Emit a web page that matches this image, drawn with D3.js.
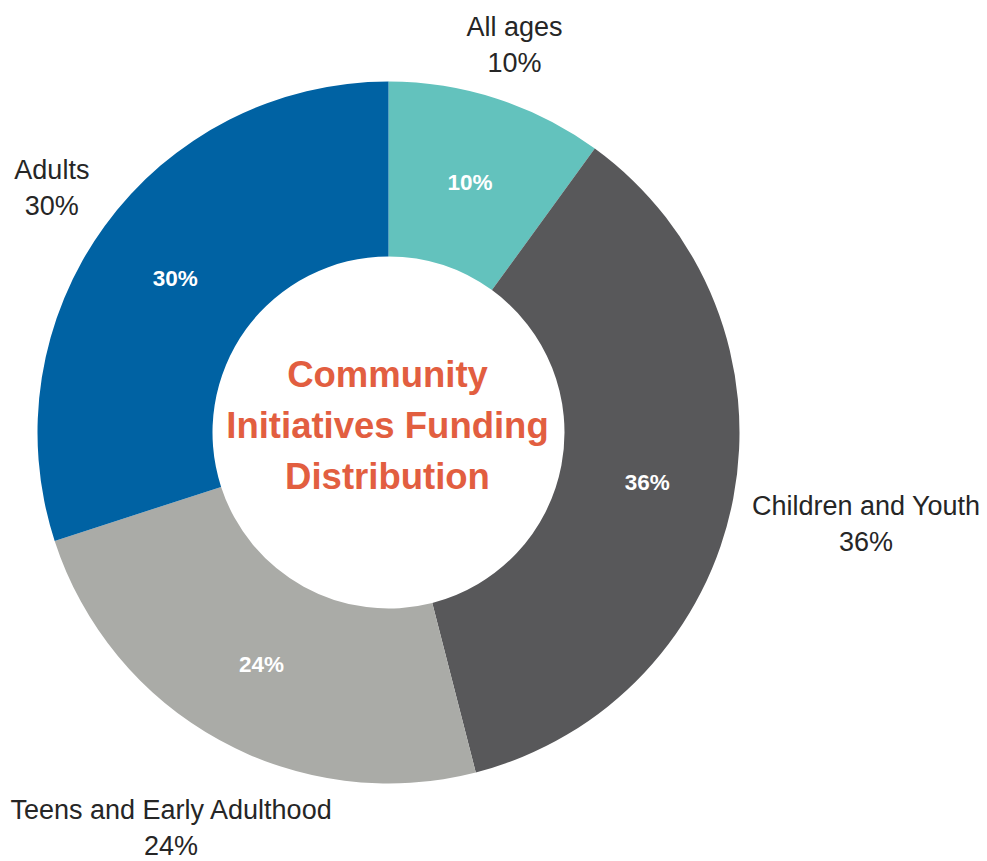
<!DOCTYPE html>
<html>
<head>
<meta charset="utf-8">
<script src="https://cdn.jsdelivr.net/npm/d3@7"></script>
<style>
  html, body { margin: 0; padding: 0; background: #fff; }
  svg { display: block; font-family: "Liberation Sans", Arial, sans-serif; }
</style>
</head>
<body>
<svg id="chart" width="987" height="861"></svg>
<script>
const categories = ["All ages", "Children and Youth", "Teens and Early Adulthood", "Adults"];
const values = [10, 36, 24, 30];
const colors = ["#63c2bd", "#58585a", "#aaaba7", "#0062a3"];
const titleLines = ["Community", "Initiatives Funding", "Distribution"];

const data = categories.map((c, i) => ({ name: c, value: values[i], color: colors[i] }));

const svg = d3.select("#chart");
const cx = 388.5, cy = 432.5;
const outerR = 351, innerR = 176;
const labelR = 374;

const g = svg.append("g").attr("transform", `translate(${cx},${cy})`);

const pie = d3.pie().value(d => d.value).sort(null);
const arc = d3.arc().innerRadius(innerR).outerRadius(outerR);
const arcs = pie(data);

g.selectAll("path.slice").data(arcs).enter().append("path")
  .attr("class", "slice")
  .attr("d", arc)
  .attr("fill", d => d.data.color);

// inner value labels
g.selectAll("text.inner").data(arcs).enter().append("text")
  .attr("class", "inner")
  .attr("transform", d => `translate(${arc.centroid(d)})`)
  .attr("text-anchor", "middle")
  .attr("dy", "0.36em")
  .attr("fill", "#ffffff")
  .attr("font-weight", "bold")
  .attr("font-size", 22.5)
  .text(d => d.data.value + "%");

// outer labels
const lineH = 36;
arcs.forEach(d => {
  const a = (d.startAngle + d.endAngle) / 2;
  const t = g.append("text")
    .attr("text-anchor", "middle")
    .attr("fill", "#262626")
    .attr("font-size", 27);
  t.append("tspan").attr("x", 0).attr("y", 0).text(d.data.name);
  t.append("tspan").attr("x", 0).attr("y", lineH).text(d.data.value + "%");
  const bb = t.node().getBBox();
  const r = labelR + Math.abs(Math.sin(a)) * bb.width / 2 + Math.max(0, Math.cos(a)) * 20;
  const tx = r * Math.sin(a), ty = -r * Math.cos(a);
  const bcx = bb.x + bb.width / 2, bcy = bb.y + bb.height / 2;
  t.attr("transform", `translate(${tx - bcx},${ty - bcy})`);
});

// center title
const title = g.append("text")
  .attr("text-anchor", "middle")
  .attr("fill", "#e25e40")
  .attr("font-weight", "bold")
  .attr("font-size", 36.5);
titleLines.forEach((l, i) => {
  title.append("tspan").attr("x", -1).attr("y", -46 + i * 51).text(l);
});
</script>
</body>
</html>
